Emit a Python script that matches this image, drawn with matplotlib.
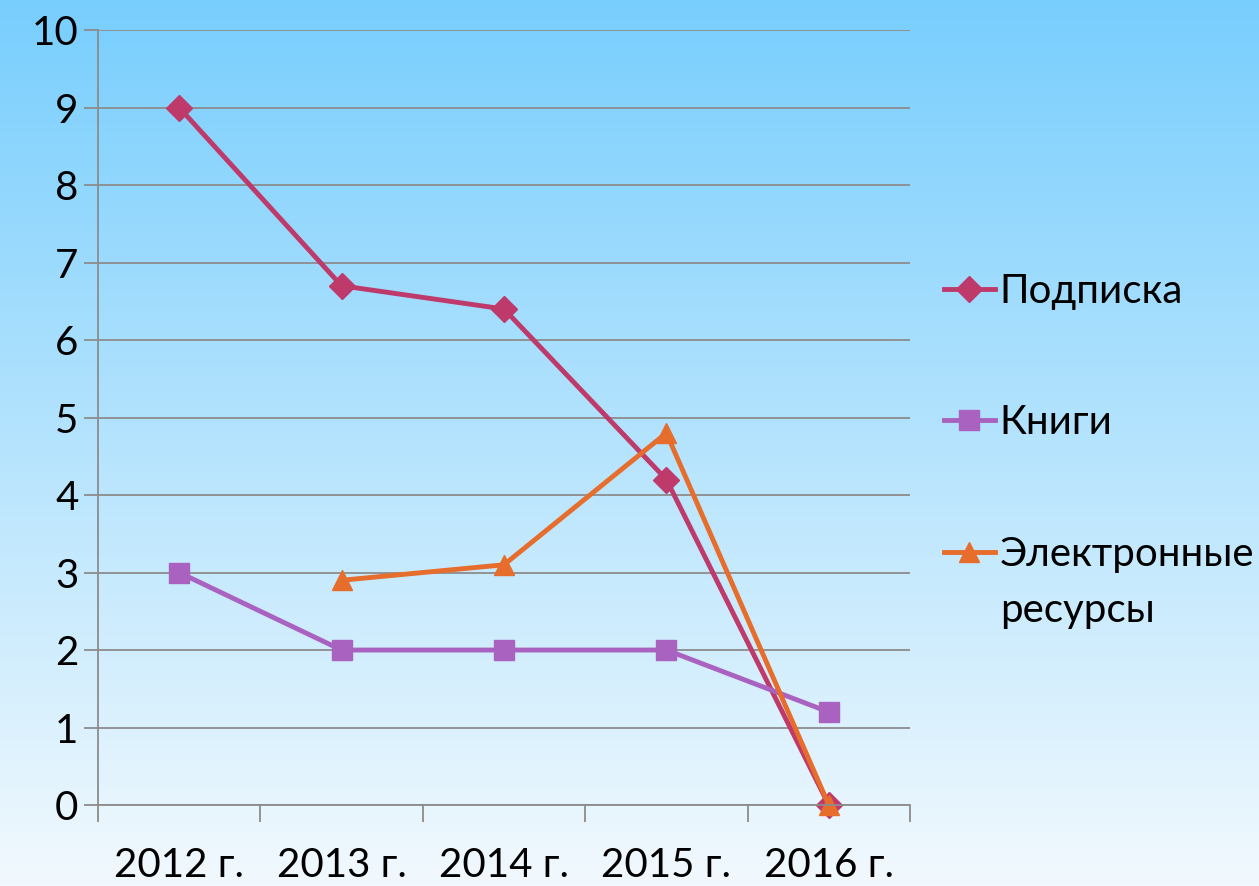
import matplotlib
matplotlib.use("Agg")
import matplotlib.pyplot as plt
import numpy as np

years = ["2012 г.", "2013 г.", "2014 г.", "2015 г.", "2016 г."]
podpiska = [9, 6.7, 6.4, 4.2, 0]
knigi = [3, 2, 2, 2, 1.2]
eresursy = [np.nan, 2.9, 3.1, 4.8, 0]
labels = ["Подписка", "Книги", "Электронные"]
label_tail = "ресурсы"  # second line of the third legend label

plt.rcParams.update({"font.family": ["Lato", "DejaVu Sans"], "font.size": 29})

fig = plt.figure(figsize=(12.59, 8.86), dpi=100)

# vertical gradient background
bg = fig.add_axes([0, 0, 1, 1], zorder=-10)
top = np.array([120, 206, 253]) / 255
bot = np.array([242, 249, 254]) / 255
t = np.linspace(0, 1, 256)[:, None]
grad = top + (bot - top) * t
bg.imshow(grad[:, None, :], aspect="auto", extent=[0, 1, 0, 1])
bg.axis("off")

ax = fig.add_axes([0.0778, 0.0914, 0.645, 0.8747])
ax.patch.set_alpha(0)
x = np.arange(len(years))

kw = dict(lw=3.5, clip_on=False)
ax.plot(x, podpiska, color="#be3a6a", marker="D", ms=13, label=labels[0], **kw)
ax.plot(x, knigi, color="#a962c0", marker="s", ms=14, label=labels[1], **kw)
ax.plot(x, eresursy, color="#e66d2b", marker="^", ms=15, label=labels[2], **kw)

ax.set_ylim(0, 10)
ax.set_xlim(-0.5, 4.5)
ax.set_yticks(range(0, 11))
ax.grid(axis="y", color="#8c8c8c", lw=1.3)
ax.set_axisbelow(True)
ax.set_xticks(np.arange(-0.5, 5, 1))
ax.set_xticklabels([])
ax.set_xticks(x, minor=True)
ax.set_xticklabels(years, minor=True)
ax.tick_params(axis="x", which="major", length=12, color="#8c8c8c", width=1.3)
ax.tick_params(axis="x", which="minor", length=0, pad=30)
ax.tick_params(axis="y", length=10, color="#8c8c8c", width=1.3, pad=4)
for s in ["top", "right"]:
    ax.spines[s].set_visible(False)
for s in ["left", "bottom"]:
    ax.spines[s].set_color("#8c8c8c")
    ax.spines[s].set_linewidth(1.3)

ax.legend(loc="center left", bbox_to_anchor=(0.750, 0.5226),
          bbox_transform=fig.transFigure, frameon=False, borderpad=0,
          borderaxespad=0, handlelength=1.25, handletextpad=0.12,
          labelspacing=2.35)
fig.text(0.794, 0.3115, label_tail, va="center", ha="left")

fig.savefig("out.png", dpi=100)
